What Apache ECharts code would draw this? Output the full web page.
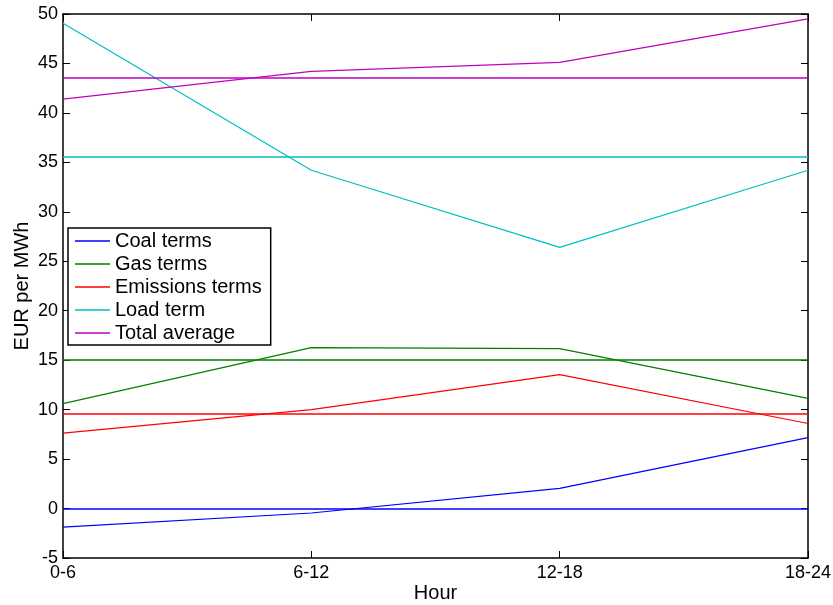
<!DOCTYPE html>
<html>
<head>
<meta charset="utf-8">
<script src="https://cdn.jsdelivr.net/npm/echarts@6/dist/echarts.min.js"></script>
<style>
  html, body { margin: 0; padding: 0; background: #fff; }
  #chart { width: 833px; height: 605px; }
</style>
</head>
<body>
<div id="chart"></div>
<script>
// Hour blocks of the day
const hours = ['0-6', '6-12', '12-18', '18-24'];

// Price components per hour block (EUR per MWh)
const coalTerms      = [-1.87, -0.45, 2.04, 7.17];
const gasTerms       = [10.6, 16.27, 16.17, 11.14];
const emissionsTerms = [7.63, 10.0, 13.54, 8.6];
const loadTerm       = [49.06, 34.2, 26.4, 34.2];
const totalAverage   = [41.4, 44.2, 45.1, 49.5];

// Daily level of each component, drawn as a flat line
const dailyLevels = [0.0, 15.05, 9.63, 35.58, 43.6];

const seriesNames  = ['Coal terms', 'Gas terms', 'Emissions terms', 'Load term', 'Total average'];
const seriesValues = [coalTerms, gasTerms, emissionsTerms, loadTerm, totalAverage];
const seriesColors = ['#0000ff', '#008000', '#ff0000', '#00bfbf', '#bf00bf'];

const FONT = 'Liberation Sans, Arial, Helvetica, sans-serif';

const chart = echarts.init(document.getElementById('chart'), null, { renderer: 'canvas' });

const series = seriesNames.map((name, i) => ({
  name: name,
  type: 'line',
  data: seriesValues[i],
  symbol: 'none',
  showSymbol: false,
  silent: true,
  animation: false,
  color: seriesColors[i],
  itemStyle: { color: seriesColors[i] },
  lineStyle: { color: seriesColors[i], width: 1.2 },
  emphasis: { disabled: true },
  markLine: {
    silent: true,
    symbol: ['none', 'none'],
    label: { show: false },
    animation: false,
    emphasis: { disabled: true },
    itemStyle: { color: seriesColors[i] },
    lineStyle: { color: seriesColors[i], width: 1.5, type: 'solid', opacity: 1 },
    data: [{ yAxis: dailyLevels[i] }]
  }
}));

const frameLine = { show: true, onZero: false, lineStyle: { color: '#000', width: 1.5 } };
const innerTick = { show: true, inside: true, length: 7, lineStyle: { color: '#000', width: 1 } };

chart.setOption({
  animation: false,
  backgroundColor: '#fff',
  grid: { left: 63, right: 25, top: 14, bottom: 47, containLabel: false, outerBoundsMode: 'none' },
  xAxis: [
    {
      type: 'category',
      data: hours,
      boundaryGap: false,
      position: 'bottom',
      name: 'Hour',
      nameLocation: 'middle',
      nameGap: 25,
      nameMoveOverlap: false,
      nameTextStyle: { fontFamily: FONT, fontSize: 20, color: '#000' },
      axisLine: frameLine,
      axisTick: innerTick,
      axisLabel: { fontFamily: FONT, fontSize: 18, color: '#000', margin: 6 },
      splitLine: { show: false }
    },
    {
      type: 'category',
      data: hours,
      boundaryGap: false,
      position: 'top',
      axisLine: frameLine,
      axisTick: innerTick,
      axisLabel: { show: false },
      splitLine: { show: false }
    }
  ],
  yAxis: [
    {
      type: 'value',
      min: -5,
      max: 50,
      interval: 5,
      position: 'left',
      name: 'EUR per MWh',
      nameLocation: 'middle',
      nameGap: 31,
      nameMoveOverlap: false,
      nameTextStyle: { fontFamily: FONT, fontSize: 20, color: '#000' },
      axisLine: frameLine,
      axisTick: innerTick,
      axisLabel: { fontFamily: FONT, fontSize: 18, color: '#000', margin: 5 },
      splitLine: { show: false }
    },
    {
      type: 'value',
      min: -5,
      max: 50,
      interval: 5,
      position: 'right',
      axisLine: frameLine,
      axisTick: innerTick,
      axisLabel: { show: false },
      splitLine: { show: false }
    }
  ],
  legend: {
    orient: 'vertical',
    left: 68,
    top: 228,
    data: seriesNames,
    icon: 'rect',
    backgroundColor: '#fff',
    borderColor: '#000',
    borderWidth: 1.5,
    borderRadius: 0,
    padding: [3, 9, 2, 7],
    itemWidth: 35,
    itemHeight: 1.3,
    itemGap: 3,
    selectedMode: false,
    textStyle: { fontFamily: FONT, fontSize: 20, color: '#000' }
  },
  series: series
});
</script>
</body>
</html>
